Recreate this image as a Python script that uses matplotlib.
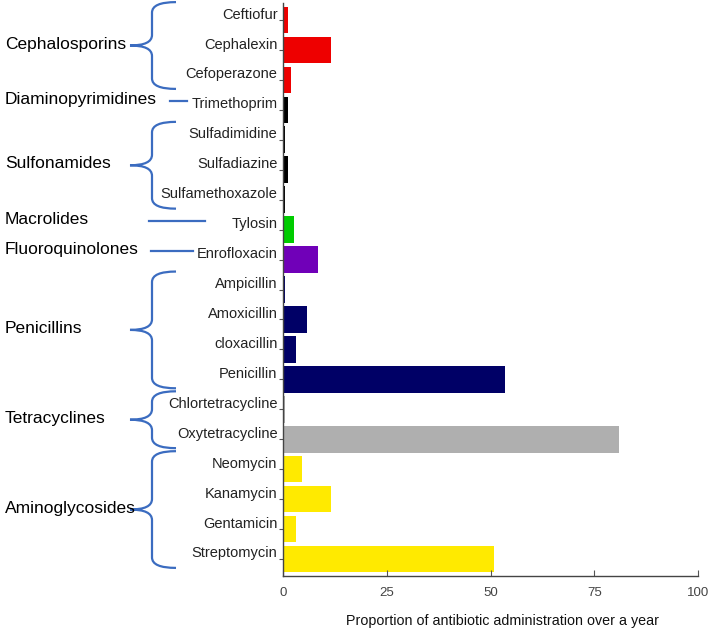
import matplotlib
matplotlib.use("Agg")
import matplotlib.pyplot as plt
from matplotlib.path import Path
from matplotlib.patches import PathPatch
from matplotlib.transforms import ScaledTranslation, blended_transform_factory

plt.rcParams["font.family"] = ["Liberation Sans", "DejaVu Sans"]

# Data
drugs = ["Ceftiofur", "Cephalexin", "Cefoperazone", "Trimethoprim",
         "Sulfadimidine", "Sulfadiazine", "Sulfamethoxazole", "Tylosin",
         "Enrofloxacin", "Ampicillin", "Amoxicillin", "cloxacillin",
         "Penicillin", "Chlortetracycline", "Oxytetracycline", "Neomycin",
         "Kanamycin", "Gentamicin", "Streptomycin"]
values = [1.2, 11.6, 1.9, 1.3, 0.6, 1.3, 0.6, 2.6, 8.5, 0.5, 5.9, 3.2,
          53.6, 0.6, 81.0, 4.6, 11.6, 3.2, 50.9]
bar_colors = ["#ee0000"] * 3 + ["#000000"] * 4 + ["#00cc00", "#7000b8"] + \
             ["#000066"] * 4 + ["#afafaf"] * 2 + ["#ffea00"] * 4

# drug classes: (name, first row, last row)
classes = [("Cephalosporins", 0, 2), ("Diaminopyrimidines", 3, 3),
           ("Sulfonamides", 4, 6), ("Macrolides", 7, 7),
           ("Fluoroquinolones", 8, 8), ("Penicillins", 9, 12),
           ("Tetracyclines", 13, 14), ("Aminoglycosides", 15, 18)]
xticks = [0, 25, 50, 75, 100]

fig = plt.figure(figsize=(7.11, 6.3), dpi=100)
ax = fig.add_axes([283 / 711, 54 / 630, 415 / 711, 573 / 630])

y = list(range(len(drugs)))
ax.barh(y, values, height=0.89, color=bar_colors)
ax.set_ylim(len(drugs) - 0.43, -0.57)
ax.set_xlim(0, 100)

ax.set_yticks(y)
ax.set_yticklabels(drugs, fontsize=10.5, color="#222222")
ax.tick_params(axis="y", length=3, width=0.8, color="#555555", pad=1)
off = ScaledTranslation(0, 5 / 72, fig.dpi_scale_trans)
for lab in ax.get_yticklabels():
    lab.set_transform(lab.get_transform() + off)

ax.set_xticks(xticks)
ax.set_xticklabels([str(t) for t in xticks], fontsize=9.5, color="#444444")
ax.tick_params(axis="x", direction="in", length=4, width=0.8,
               color="#555555", pad=8)

for s in ["top", "right"]:
    ax.spines[s].set_visible(False)
for s in ["left", "bottom"]:
    ax.spines[s].set_color("#444444")
    ax.spines[s].set_linewidth(1.0)

ax.set_xlabel("Proportion of antibiotic administration over a year",
              fontsize=10.3, color="#111111")
ax.xaxis.set_label_coords(0.53, -0.067)

# class braces on the left
tr = blended_transform_factory(fig.transFigure, ax.transData)
blue = "#3b6cc0"
px = lambda p: p / 711


def brace(top, bot, x_tip, x_mid, x_end):
    mid = (top + bot) / 2
    r = 0.35
    verts = [(x_end, top), (x_mid, top), (x_mid, top + r),
             (x_mid, mid - r), (x_mid, mid), (x_tip, mid),
             (x_mid, mid), (x_mid, mid + r),
             (x_mid, bot - r), (x_mid, bot), (x_end, bot)]
    codes = [Path.MOVETO, Path.CURVE3, Path.CURVE3,
             Path.LINETO, Path.CURVE3, Path.CURVE3,
             Path.CURVE3, Path.CURVE3,
             Path.LINETO, Path.CURVE3, Path.CURVE3]
    ax.add_patch(PathPatch(Path(verts, codes), transform=tr, fill=False,
                           edgecolor=blue, lw=1.6, clip_on=False))
    return mid


for name, a, b in classes:
    if a == b:
        yy = a - 0.3
        if name == "Macrolides":
            x0, x1 = 149, 205
        elif name == "Fluoroquinolones":
            x0, x1 = 151, 193
        else:
            x0, x1 = 170, 187
        ax.plot([px(x0), px(x1)], [yy, yy], color=blue, lw=1.6,
                transform=tr, clip_on=False)
        ty = yy
    else:
        ty = brace(a - 0.6, b + 0.3, px(130), px(152), px(176))
    fig.text(px(5), 0, name, fontsize=12.5, va="center", ha="left",
             transform=tr).set_y(ty - 0.05)

fig.savefig("out.png", dpi=100)
